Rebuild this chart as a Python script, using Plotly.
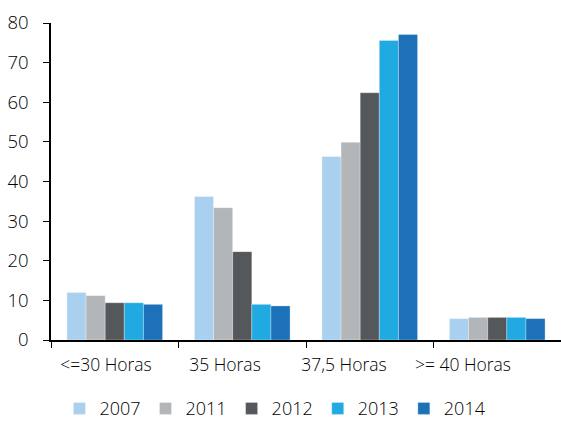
import plotly.graph_objects as go

categories = ["<=30 Horas", "35 Horas", "37,5 Horas", ">= 40 Horas"]
years = ["2007", "2011", "2012", "2013", "2014"]
v2007 = [12.0, 36.2, 46.3, 5.4]
v2011 = [11.2, 33.4, 49.9, 5.7]
v2012 = [9.4, 22.3, 62.4, 5.7]
v2013 = [9.4, 9.0, 75.6, 5.7]
v2014 = [9.0, 8.6, 77.1, 5.4]
series = [v2007, v2011, v2012, v2013, v2014]
colors = ["#A9D0EF", "#B3B6B9", "#54585B", "#21AAE1", "#1C71B9"]

fig = go.Figure()
for y, vals, c in zip(years, series, colors):
    fig.add_trace(go.Bar(x=categories, y=vals, name=y,
                         marker=dict(color=c, line=dict(color="rgba(255,255,255,0.6)", width=0.5))))

# label axis: the reference draws its category labels slightly compressed to the left
idx = list(range(len(categories)))
fig.add_trace(go.Scatter(x=idx, y=[0] * len(idx), xaxis="x2", mode="markers",
                         marker=dict(opacity=0), showlegend=False, hoverinfo="skip"))

font = "'Open Sans', sans-serif"
txt = "#000000"
fig.update_layout(
    width=561, height=425,
    margin=dict(l=51, r=0, t=23, b=85, autoexpand=False),
    paper_bgcolor="white", plot_bgcolor="white",
    barmode="group", bargap=0.25, bargroupgap=0,
    font=dict(family=font, size=17, color=txt, weight=300),
    showlegend=True,
    legend=dict(orientation="h", x=0.44, xanchor="center", y=-0.275, yanchor="bottom",
                font=dict(size=18, color=txt, weight=300), itemwidth=30, traceorder="normal"),
    xaxis=dict(showline=True, linecolor="#000", linewidth=1.5, ticks="outside",
               tickson="boundaries", ticklen=6, tickcolor="#000", tickwidth=1.2,
               showticklabels=False, showgrid=False, automargin=False),
    xaxis2=dict(overlaying="x", side="bottom", type="linear", range=[-0.462, 3.824],
                tickmode="array", tickvals=idx, ticktext=categories, ticks="",
                showline=False, showgrid=False, zeroline=False, automargin=False,
                tickfont=dict(size=17.5, weight=300, color=txt), ticklabelstandoff=12),
    yaxis=dict(range=[0, 80], dtick=10, showline=True, linecolor="#000", linewidth=1.5,
               ticks="outside", ticklen=6, tickcolor="#000", tickwidth=1.2,
               showgrid=False, zeroline=False, tickfont=dict(size=18.5, weight=300),
               automargin=False, ticklabelstandoff=11),
)
fig.write_html("out.html", config={"displayModeBar": False},
               post_script="document.body.style.margin='0';document.body.style.overflow='hidden';")
